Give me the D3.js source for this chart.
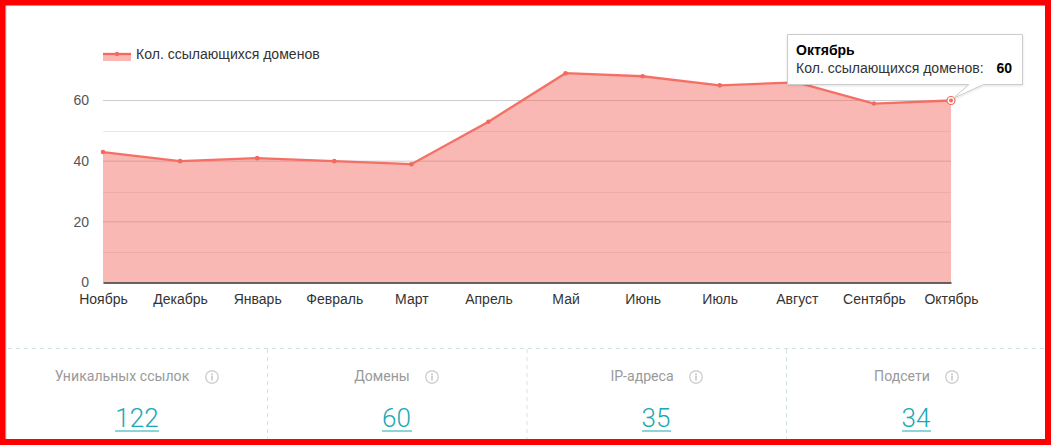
<!DOCTYPE html>
<html><head><meta charset="utf-8">
<script src="https://cdn.jsdelivr.net/npm/d3@7/dist/d3.min.js"></script>
<style>
html,body{margin:0;padding:0;background:#fff;overflow:hidden}
svg{display:block}
</style></head><body>
<svg id="c" width="1051" height="445"></svg>
<script>
const months = ["Ноябрь","Декабрь","Январь","Февраль","Март","Апрель","Май","Июнь","Июль","Август","Сентябрь","Октябрь"];
const domains = [43,40,41,40,39,53,69,68,65,66,59,60];
const majorTicks = [0,20,40,60];
const minorTicks = [10,30,50];
const seriesName = "Кол. ссылающихся доменов";
const statLabels = ["Уникальных ссылок","Домены","IP-адреса","Подсети"];
const statValues = ["122","60","35","34"];

const svg = d3.select("#c");
const ARIAL = "'Liberation Sans',Arial,sans-serif", ROBOTO = "Roboto,sans-serif";
const x = d3.scalePoint().domain(months).range([103,951]);
const y = d3.scaleLinear().domain([0,60]).range([282.5,100.5]);
const LINE="#f4695f", FILL="#f4695f";

// frame
svg.append("rect").attr("x",6).attr("y",6).attr("width",1040).attr("height",433).attr("fill","#fff");
svg.append("line").attr("x1",6).attr("x2",6).attr("y1",5).attr("y2",440).attr("stroke","#e4e4e4").attr("stroke-width",2);

// grid
svg.append("g").selectAll("line").data(minorTicks).join("line")
  .attr("x1",103).attr("x2",951).attr("y1",d=>Math.round(y(d))+.5).attr("y2",d=>Math.round(y(d))+.5)
  .attr("stroke","#e8e8e8");
svg.append("g").selectAll("line").data(majorTicks.filter(d=>d>0)).join("line")
  .attr("x1",103).attr("x2",951).attr("y1",d=>y(d)).attr("y2",d=>y(d))
  .attr("stroke","#cccccc");

// area + line
const area = d3.area().x((d,i)=>x(months[i])).y0(y(0)).y1(d=>y(d));
const line = d3.line().x((d,i)=>x(months[i])).y(d=>y(d));
svg.append("path").attr("d",area(domains)).attr("fill",FILL).attr("fill-opacity",.47);
svg.append("path").attr("d",line(domains)).attr("fill","none").attr("stroke",LINE).attr("stroke-width",2.3).attr("stroke-opacity",.95);
svg.append("g").selectAll("circle").data(domains).join("circle")
  .attr("cx",(d,i)=>x(months[i])).attr("cy",d=>y(d)).attr("r",2.3).attr("fill",LINE);

// axis
const xAxis = d3.axisBottom(x).tickSize(0).tickPadding(12);
const gx = svg.append("g").attr("transform",`translate(0,${y(0)})`).call(xAxis);
gx.select(".domain").attr("stroke","#333").attr("stroke-width",1.3);
gx.selectAll("text").attr("font-family",ARIAL).attr("font-size",14).attr("fill","#333");
const yAxis = d3.axisLeft(y).tickValues(majorTicks).tickSize(0).tickPadding(14);
const gy = svg.append("g").attr("transform","translate(103,0)").call(yAxis);
gy.select(".domain").remove();
gy.selectAll("text").attr("font-family",ARIAL).attr("font-size",14).attr("fill","#555").attr("dy","0.3em");

// legend
const lg = svg.append("g");
lg.append("rect").attr("x",103).attr("y",54).attr("width",28).attr("height",7).attr("fill",FILL).attr("fill-opacity",.47);
lg.append("line").attr("x1",103).attr("x2",131).attr("y1",54).attr("y2",54).attr("stroke",LINE).attr("stroke-width",2.3);
lg.append("circle").attr("cx",117).attr("cy",54).attr("r",2.2).attr("fill",LINE);
lg.append("text").attr("x",136).attr("y",59).attr("font-family",ARIAL).attr("font-size",14.05).attr("fill","#333").text(seriesName);

// highlighted point
const lastI = months.length-1, hx = x(months[lastI]), hy = y(domains[lastI]);
svg.append("circle").attr("cx",hx).attr("cy",hy).attr("r",4).attr("fill","#fff").attr("stroke",LINE).attr("stroke-width",1.2);
svg.append("circle").attr("cx",hx).attr("cy",hy).attr("r",2).attr("fill",LINE);

// tooltip
const defs = svg.append("defs");
const flt = defs.append("filter").attr("id","ts").attr("x","-5%").attr("y","-10%").attr("width","110%").attr("height","130%");
flt.append("feDropShadow").attr("dx",0).attr("dy",1).attr("stdDeviation",1.2).attr("flood-color","#000").attr("flood-opacity",.12);
const tip = svg.append("g");
tip.append("path").attr("d",`M787.5,34.5H1022.5V84.5H983.5L${hx+2},${hy-2}L969,84.5H787.5Z`)
  .attr("fill","#fff").attr("stroke","#ccc").attr("filter","url(#ts)");
tip.append("text").attr("x",796).attr("y",55).attr("font-family",ARIAL).attr("font-size",14).attr("font-weight",700).attr("fill","#000").text(months[lastI]);
tip.append("text").attr("x",796).attr("y",73).attr("font-family",ARIAL).attr("font-size",14.05).attr("fill","#333").text(seriesName+":");
tip.append("text").attr("x",1012).attr("y",73).attr("text-anchor","end").attr("font-family",ARIAL).attr("font-size",14).attr("font-weight",700).attr("fill","#000").text(domains[lastI]);

// stats
const DASH="#cfe3e1";
svg.append("line").attr("x1",8).attr("x2",1046).attr("y1",348.5).attr("y2",348.5).attr("stroke",DASH).attr("stroke-dasharray","4 4");
[267.5,527,786.5].forEach(v=>svg.append("line").attr("x1",v).attr("x2",v).attr("y1",349).attr("y2",439).attr("stroke",DASH).attr("stroke-dasharray","4 4"));
const cx=[137,396.5,656,916], ix=[212,432,696,952], ux=[[115,159],[382,412],[642,671],[902,931]];
const lx=[122,382,642,902];
svg.selectAll(".sl").data(statLabels).join("text").attr("class","sl")
  .attr("x",(d,i)=>lx[i]).attr("y",381).attr("text-anchor","middle").attr("font-family",ROBOTO).attr("font-size",14.1).attr("fill","#9a9a9a").text(d=>d);
ix.forEach(v=>{
  const g=svg.append("g").attr("transform",`translate(${v},377)`);
  g.append("circle").attr("r",6.3).attr("fill","none").attr("stroke","#d0d0d0").attr("stroke-width",1.4);
  g.append("rect").attr("x",-.8).attr("y",-1.5).attr("width",1.6).attr("height",5).attr("fill","#c8c8c8");
  g.append("rect").attr("x",-.8).attr("y",-3.8).attr("width",1.6).attr("height",1.6).attr("fill","#c8c8c8");
});
svg.selectAll(".sv").data(statValues).join("text").attr("class","sv")
  .attr("x",(d,i)=>cx[i]).attr("y",427).attr("text-anchor","middle").attr("font-family",ROBOTO).attr("font-weight",300).attr("font-size",26).attr("fill","#1aa9b4").text(d=>d);
ux.forEach(u=>svg.append("line").attr("x1",u[0]).attr("x2",u[1]).attr("y1",431).attr("y2",431).attr("stroke","#1aa9b4").attr("stroke-width",1));

// red border drawn last
svg.append("rect").attr("x",2.5).attr("y",2.5).attr("width",1045.5).attr("height",439.5).attr("fill","none").attr("stroke","#f00").attr("stroke-width",6);
svg.append("rect").attr("x",1048).attr("y",0).attr("width",3).attr("height",445).attr("fill","#f00");
svg.append("rect").attr("x",0).attr("y",0).attr("width",1051).attr("height",3).attr("fill","#f00");
</script>
</body></html>
